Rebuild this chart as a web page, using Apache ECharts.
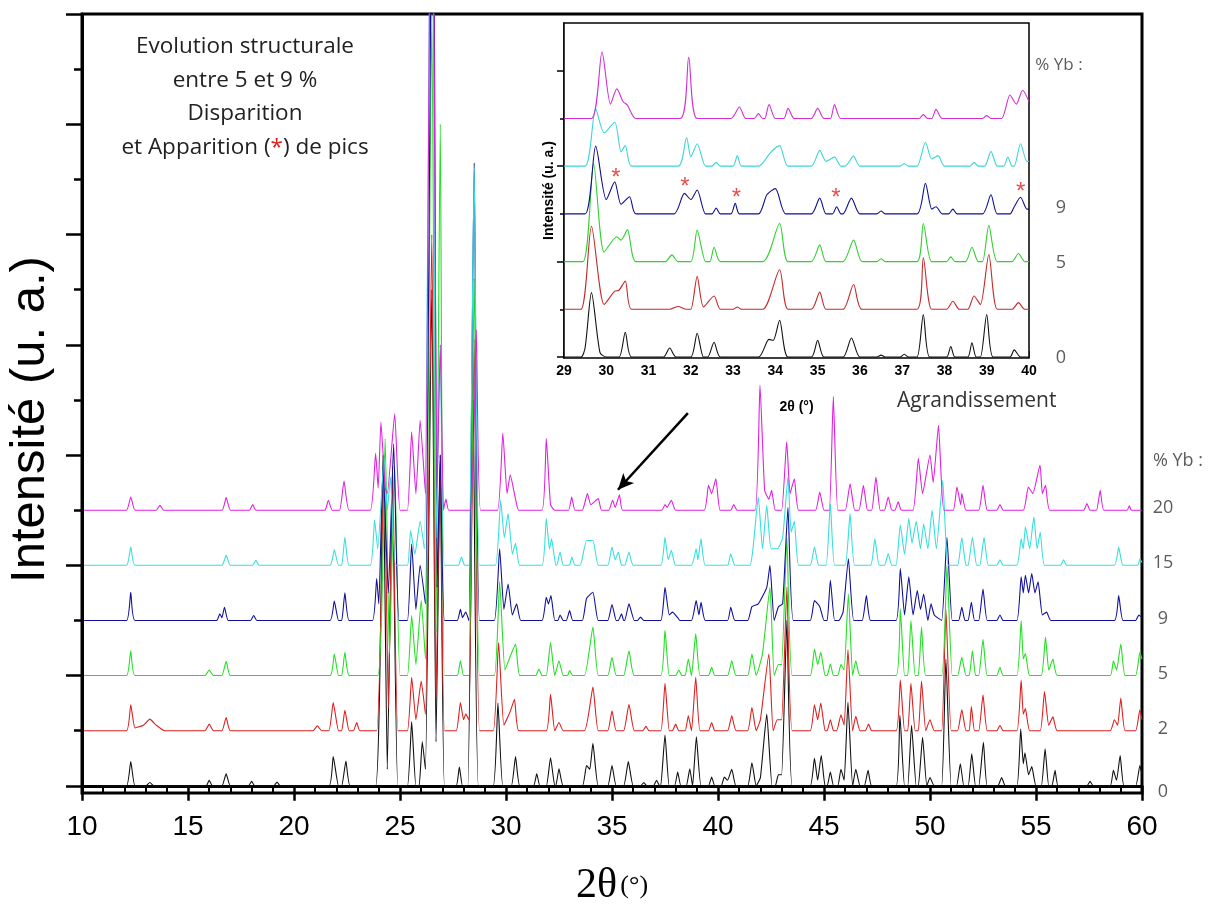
<!DOCTYPE html>
<html><head><meta charset="utf-8">
<script src="https://cdn.jsdelivr.net/npm/echarts@6/dist/echarts.min.js"></script>
<style>html,body{margin:0;padding:0;background:#fff}#c{width:1208px;height:910px}</style>
</head><body><div id="c"></div>
<script>
// ---- data (2θ in degrees, intensity in arbitrary units above each pattern's baseline) ----
const ybLabels = ['0', '2', '5', '9', '15', '20'];
const ybHeader = '% Yb :';
const mainLevels = [0, 1, 2, 3, 4, 5];
const mainHeaderLevel = 5.9;
const insetLevels = [0, 2, 3];
const insetLabels = ['0', '5', '9'];
const insetHeaderLevel = 6.05;
const xTicksMain = [10, 60, 5];
const xTicksInset = [29, 40, 1];

const main0 = [[11,0],[12.1,0],[12.3,0.44],[12.5,0],[13.0,0],[13.2,0.06],[13.4,0],[15.85,0],[16.0,0.1],[16.15,0],[16.6,0],[16.8,0.22],[17.0,0],[17.85,0],[18.0,0.08],[18.15,0],[19.05,0],[19.2,0.07],[19.35,0],[21.65,0],[21.85,0.53],[22.1,0],[22.25,0],[22.45,0.45],[22.65,0],
[23.85,0],[24.2,6.0],[24.4,0.3],[24.65,5.5],[24.9,0],[25.35,0],[25.55,1.16],[25.75,0],[25.9,0],[26.05,0.8],[26.2,0.3],[26.5,9],[26.7,0.8],[26.9,6],[27.1,0],[27.65,0],[27.8,0.34],[27.95,0],[28.2,0],[28.45,7],[28.7,0],[29.4,0],[29.62,1.5],[29.85,0],[30.25,0],[30.45,0.53],[30.65,0],[31.3,0],[31.45,0.22],[31.6,0],[31.9,0],[32.1,0.51],[32.3,0],[32.35,0],[32.5,0.31],[32.7,0],[33.6,0],[33.8,0.37],[33.95,0.3],[34.1,0.77],[34.35,0],[34.8,0],[35.0,0.37],[35.2,0],[35.55,0],[35.77,0.44],[36.0,0],[36.35,0],[36.5,0.06],[36.65,0],[36.95,0],[37.1,0.1],[37.25,0],[37.3,0],[37.5,0.92],[37.7,0],[37.95,0],[38.1,0.25],[38.25,0],[38.5,0],[38.67,0.31],[38.8,0],[38.98,0.89],[39.2,0],[39.55,0],[39.7,0.16],[39.85,0],[40.15,0],[40.3,0.16],[40.45,0.1],[40.65,0.3],[40.85,0],[41.4,0],[41.6,0.42],[41.8,0],[42.0,0.15],[42.3,1.3],[42.55,0],[42.7,0],[42.85,0.2],[43.0,0.2],[43.25,3.0],[43.5,0],[44.35,0],[44.55,0.5],[44.7,0.1],[44.87,0.55],[45.05,0],[45.15,0],[45.3,0.25],[45.45,0],[45.65,0],[45.8,0.3],[45.95,0.1],[46.13,1.52],[46.35,0],[46.5,0.3],[46.7,0],[46.9,0],[47.08,0.28],[47.25,0],[48.4,0],[48.58,1.28],[48.8,0],[48.95,0],[49.13,1.1],[49.35,0],[49.45,0],[49.65,0.88],[49.85,0],[50.0,0.15],[50.2,0],[50.55,0],[50.75,2.3],[51.0,0],[51.25,0],[51.43,0.4],[51.6,0],[51.8,0],[51.97,0.58],[52.15,0],[52.3,0],[52.52,0.79],[52.7,0],[53.2,0],[53.38,0.15],[53.55,0],[54.1,0],[54.28,1.03],[54.4,0.4],[54.48,0.6],[54.65,0.2],[54.8,0.35],[55.0,0],[55.25,0],[55.43,0.67],[55.6,0],[55.75,0],[55.9,0.28],[56.05,0],[57.4,0],[57.55,0.08],[57.7,0],[58.5,0],[58.65,0.28],[58.8,0.1],[58.97,0.55],[59.15,0],[59.7,0],[59.9,0.37],[60,0.2]];

const main1 = [[10.1,0],[12.1,0],[12.3,0.47],[12.5,0.05],[12.9,0.1],[13.2,0.21],[13.5,0.1],[13.9,0],[15.8,0],[16.0,0.12],[16.2,0],[16.6,0],[16.8,0.24],[17.0,0],[20.9,0],[21.1,0.09],[21.3,0],[21.65,0],[21.85,0.51],[22.1,0],[22.25,0],[22.4,0.37],[22.6,0],[22.8,0],[22.96,0.15],[23.1,0],
[23.9,0],[24.25,5.0],[24.45,0.4],[24.65,4.8],[24.9,0],[25.35,0],[25.55,0.97],[25.75,0.2],[26.0,0.9],[26.2,0.3],[26.5,9],[26.7,0.6],[26.9,5],[27.1,0],[27.65,0],[27.85,0.51],[28.0,0.2],[28.1,0.3],[28.25,0.2],[28.5,7.1],[28.75,0],[29.4,0],[29.65,1.6],[29.9,0.1],[30.2,0.35],[30.4,0.57],[30.6,0],[31.9,0],[32.1,0.66],[32.3,0],[32.5,0.15],[32.7,0],[33.7,0],[34.1,0.79],[34.35,0],[34.8,0],[35.0,0.36],[35.2,0],[35.55,0],[35.8,0.48],[36.05,0],[36.45,0],[36.6,0.08],[36.75,0],[37.3,0],[37.5,0.86],[37.7,0],[37.85,0],[38.0,0.12],[38.15,0],[38.45,0],[38.6,0.27],[38.75,0],[38.95,0.97],[39.15,0],[39.55,0],[39.7,0.15],[39.85,0],[40.45,0],[40.65,0.27],[40.85,0],[41.4,0],[41.6,0.42],[41.8,0],[42.0,0.2],[42.4,1.39],[42.6,0],[42.8,0.2],[43.0,0.2],[43.25,2.6],[43.5,0],[44.35,0],[44.55,0.47],[44.7,0.2],[44.85,0.5],[45.05,0],[45.15,0],[45.3,0.2],[45.45,0],[45.6,0],[45.8,0.29],[45.95,0.1],[46.13,1.47],[46.35,0],[46.5,0.26],[46.7,0],[46.95,0],[47.1,0.12],[47.25,0],[48.4,0],[48.6,0.92],[48.8,0],[48.95,0],[49.1,0.86],[49.3,0],[49.45,0],[49.6,0.9],[49.8,0],[50.0,0.2],[50.2,0],[50.55,0],[50.75,2.2],[51.0,0],[51.3,0],[51.5,0.38],[51.7,0],[51.85,0],[51.95,0.44],[52.1,0],[52.3,0],[52.5,0.65],[52.7,0],[53.15,0],[53.3,0.1],[53.45,0],[54.1,0],[54.3,0.92],[54.4,0.3],[54.5,0.4],[54.7,0],[55.2,0],[55.4,0.71],[55.6,0.1],[55.8,0.25],[56.0,0],[58.5,0],[58.7,0.2],[58.85,0.1],[59.0,0.59],[59.2,0],[59.7,0],[59.9,0.38],[60,0.2]];

const main2 = [[10.1,0],[12.1,0],[12.3,0.45],[12.5,0],[15.8,0],[16.0,0.1],[16.2,0],[16.6,0],[16.8,0.26],[17.0,0],[21.7,0],[21.9,0.39],[22.1,0],[22.25,0],[22.4,0.42],[22.6,0],
[23.95,0],[24.3,4.3],[24.5,0.4],[24.75,3.8],[25.0,0],[25.35,0],[25.55,1.09],[25.75,0.2],[26.0,1.36],[26.2,0.3],[26.5,12],[26.7,0.8],[26.9,10],[27.1,0],[27.7,0],[27.85,0.27],[28.0,0],[28.25,0],[28.5,7.2],[28.75,0],[29.45,0],[29.7,1.7],[29.95,0.1],[30.2,0.35],[30.45,0.57],[30.65,0],[31.4,0],[31.55,0.12],[31.7,0],[31.9,0],[32.1,0.6],[32.3,0],[32.5,0.27],[32.7,0],[32.9,0],[33.0,0.09],[33.15,0],[33.7,0],[34.1,0.88],[34.35,0],[34.8,0],[35.0,0.33],[35.2,0],[35.55,0],[35.8,0.45],[36.05,0],[37.3,0],[37.5,0.82],[37.7,0],[38.0,0],[38.15,0.1],[38.3,0],[38.45,0],[38.6,0.3],[38.75,0],[38.95,0.76],[39.15,0],[39.55,0],[39.7,0.15],[39.85,0],[40.45,0],[40.65,0.27],[40.85,0],[41.4,0],[41.6,0.39],[41.8,0],[42.1,0.4],[42.45,1.6],[42.65,0],[42.85,0.2],[43.0,0.2],[43.25,2.5],[43.5,0],[44.35,0],[44.55,0.48],[44.7,0.2],[44.85,0.42],[45.05,0],[45.15,0],[45.3,0.21],[45.45,0],[45.65,0],[45.8,0.2],[45.95,0.1],[46.15,1.48],[46.35,0],[46.5,0.27],[46.7,0],[48.4,0],[48.6,1.21],[48.8,0],[48.95,0],[49.1,1.0],[49.3,0],[49.45,0],[49.6,0.88],[49.8,0],[50.55,0],[50.8,2.0],[51.05,0],[51.3,0],[51.5,0.33],[51.7,0],[51.85,0],[52.0,0.45],[52.15,0],[52.3,0],[52.5,0.66],[52.7,0],[53.15,0],[53.3,0.15],[53.45,0],[54.1,0],[54.3,1.0],[54.4,0.3],[54.5,0.4],[54.7,0],[55.25,0],[55.45,0.7],[55.6,0.1],[55.8,0.3],[56.0,0],[58.5,0],[58.65,0.27],[58.8,0.1],[59.0,0.57],[59.2,0],[59.7,0],[59.9,0.42],[60,0.3]];

const main3 = [[10.1,0],[12.1,0],[12.3,0.51],[12.5,0],[16.35,0],[16.5,0.12],[16.6,0.05],[16.72,0.24],[16.9,0],[17.95,0],[18.1,0.09],[18.25,0],[21.7,0],[21.9,0.35],[22.1,0],[22.25,0],[22.4,0.5],[22.6,0],
[23.7,0],[23.9,0.76],[24.0,0.3],[24.2,2.8],[24.45,0.5],[24.7,3.2],[24.95,0],[25.35,0],[25.55,1.39],[25.75,0.2],[25.95,1.0],[26.2,0.3],[26.55,16],[26.75,0.6],[26.9,3],[27.1,0],[27.7,0],[27.85,0.2],[27.95,0.05],[28.1,0.15],[28.25,0],[28.5,8.3],[28.75,0],[29.45,0],[29.7,1.3],[29.9,0.2],[30.1,0.66],[30.3,0.1],[30.5,0.3],[30.7,0],[31.7,0],[31.9,0.42],[32.0,0.3],[32.12,0.45],[32.3,0],[32.45,0],[32.55,0.1],[32.7,0],[32.85,0],[33.0,0.18],[33.15,0],[33.6,0],[33.8,0.4],[34.1,0.51],[34.35,0],[34.8,0],[35.0,0.29],[35.2,0],[35.3,0],[35.45,0.12],[35.55,0],[35.6,0],[35.8,0.3],[36.05,0],[36.2,0],[36.35,0.06],[36.5,0],[37.3,0],[37.5,0.6],[37.7,0.1],[37.85,0.15],[38.1,0.05],[38.2,0],[38.75,0],[38.97,0.36],[39.1,0.1],[39.2,0.33],[39.4,0],[40.45,0],[40.6,0.24],[40.8,0],[41.4,0],[41.6,0.25],[41.9,0.3],[42.3,0.6],[42.45,1.0],[42.65,0],[42.85,0.25],[43.05,0.3],[43.3,2.05],[43.55,0],[44.35,0],[44.55,0.36],[44.8,0.25],[45.0,0],[45.15,0],[45.3,0.73],[45.5,0],[45.7,0],[45.9,0.15],[46.15,1.12],[46.4,0],[46.8,0],[47.0,0.45],[47.2,0],[48.4,0],[48.6,0.94],[48.8,0.1],[49.0,0.79],[49.2,0.1],[49.4,0.54],[49.55,0.2],[49.7,0.48],[49.9,0],[50.05,0.3],[50.2,0.1],[50.55,0],[50.8,1.51],[51.05,0],[51.35,0],[51.5,0.24],[51.65,0],[51.8,0],[51.95,0.33],[52.1,0],[52.3,0],[52.5,0.57],[52.7,0],[53.15,0],[53.3,0.1],[53.45,0],[54.1,0],[54.3,0.79],[54.4,0.5],[54.5,0.82],[54.65,0.5],[54.8,0.85],[54.95,0.5],[55.1,0.7],[55.3,0.1],[55.5,0.15],[55.7,0],[58.7,0],[58.9,0.45],[59.1,0],[59.7,0],[59.85,0.1],[60,0.05]];

const main4 = [[10.1,0],[12.1,0],[12.3,0.33],[12.5,0],[16.6,0],[16.8,0.18],[17.0,0],[18.05,0],[18.2,0.09],[18.35,0],[21.7,0],[21.9,0.28],[22.1,0],[22.25,0],[22.4,0.51],[22.6,0],
[23.6,0],[23.8,0.82],[23.95,0.3],[24.25,1.95],[24.4,1.0],[24.55,1.6],[24.8,0],[25.35,0],[25.5,0.63],[25.7,0.2],[25.95,0.8],[26.15,0.3],[26.5,15],[26.7,0.5],[26.9,4],[27.1,0],[27.75,0],[27.9,0.15],[28.05,0],[28.25,0],[28.5,7.2],[28.75,0],[29.5,0],[29.75,1.18],[29.92,0.5],[30.1,0.94],[30.3,0.2],[30.45,0.4],[30.65,0],[31.7,0],[31.9,0.85],[32.05,0.3],[32.15,0.48],[32.35,0],[32.4,0],[32.55,0.24],[32.7,0],[33.0,0],[33.1,0.15],[33.25,0],[33.5,0],[33.8,0.45],[34.1,0.45],[34.35,0],[34.8,0],[35.0,0.33],[35.15,0.1],[35.3,0.24],[35.45,0],[35.6,0],[35.8,0.24],[36.0,0],[37.3,0],[37.5,0.51],[37.65,0.1],[37.8,0.27],[38.0,0],[38.75,0],[38.97,0.3],[39.05,0.1],[39.2,0.48],[39.4,0],[40.45,0],[40.6,0.21],[40.8,0],[41.5,0],[41.65,0.3],[41.9,1.24],[42.1,0.3],[42.3,1.09],[42.5,0.3],[42.8,0.3],[43.05,0.5],[43.3,1.6],[43.45,0.6],[43.6,0.8],[43.8,0],[44.35,0],[44.55,0.33],[44.75,0],[45.1,0],[45.3,1.12],[45.5,0],[46.0,0],[46.23,0.94],[46.45,0],[47.2,0],[47.4,0.48],[47.6,0],[47.85,0],[48.03,0.21],[48.2,0],[48.4,0],[48.6,0.73],[48.8,0.2],[49.0,0.85],[49.15,0.4],[49.35,0.8],[49.55,0.3],[49.7,0.75],[49.9,0.3],[50.1,1.0],[50.3,0.3],[50.6,1.54],[50.85,0],[51.3,0],[51.5,0.5],[51.7,0],[51.8,0],[52.0,0.51],[52.2,0],[52.35,0],[52.55,0.51],[52.75,0],[53.15,0],[53.3,0.1],[53.45,0],[54.1,0],[54.3,0.48],[54.4,0.3],[54.5,0.7],[54.7,0.3],[54.9,0.88],[55.05,0.3],[55.2,0.6],[55.4,0],[56.15,0],[56.3,0.1],[56.45,0],[58.7,0],[58.9,0.33],[59.1,0],[59.8,0],[59.9,0.12],[60,0.05]];

const main5 = [[10.1,0],[12.1,0],[12.3,0.24],[12.5,0],[13.5,0],[13.68,0.09],[13.85,0],[16.6,0],[16.8,0.23],[17.0,0],[17.9,0],[18.05,0.1],[18.2,0],[21.45,0],[21.62,0.18],[21.8,0],[22.15,0],[22.36,0.53],[22.6,0],
[23.6,0],[23.85,1.03],[23.97,0.4],[24.1,1.6],[24.3,0.4],[24.4,0.3],[24.75,1.75],[25.0,0],[25.35,0],[25.55,1.42],[25.75,0.3],[25.95,1.63],[26.2,0.3],[26.5,15],[26.75,0.4],[26.9,3],[27.05,0],[27.1,0.1],[27.17,0.2],[27.3,0],[28.3,0],[28.6,3.27],[28.8,0],[29.6,0],[29.85,1.4],[30.05,0.3],[30.2,0.64],[30.45,0.2],[30.6,0],[31.7,0],[31.9,1.3],[32.1,0.1],[32.3,0],[32.95,0],[33.1,0.24],[33.25,0],[33.6,0],[33.84,0.3],[34.0,0.1],[34.35,0.21],[34.5,0],[34.85,0],[35.03,0.18],[35.15,0.05],[35.35,0.28],[35.5,0],[37.35,0],[37.5,0.1],[37.6,0.05],[37.8,0.18],[38.0,0],[39.35,0],[39.55,0.45],[39.7,0.3],[39.9,0.57],[40.1,0],[40.6,0],[40.74,0.1],[40.9,0],[41.75,0],[41.98,2.27],[42.2,0.36],[42.4,0.2],[42.53,0.36],[42.7,0],[43.0,0],[43.24,1.24],[43.4,0.3],[43.6,0.57],[43.8,0],[44.6,0],[44.8,0.33],[45.0,0],[45.25,0],[45.44,2.06],[45.65,0],[46.0,0],[46.23,0.48],[46.45,0],[46.65,0],[46.86,0.45],[47.05,0],[47.25,0],[47.45,0.6],[47.65,0],[47.85,0],[48.03,0.24],[48.2,0],[48.35,0],[48.5,0.15],[48.65,0],[49.2,0],[49.45,0.94],[49.65,0.3],[50.0,1.0],[50.15,0.5],[50.4,1.54],[50.65,0],[51.1,0],[51.27,0.42],[51.45,0.1],[51.5,0.3],[51.7,0],[52.3,0],[52.5,0.45],[52.7,0],[53.15,0],[53.3,0.1],[53.45,0],[54.4,0],[54.64,0.42],[54.85,0.3],[55.19,0.82],[55.3,0.3],[55.45,0.45],[55.65,0],[57.25,0],[57.4,0.12],[57.55,0],[57.85,0],[58.03,0.36],[58.2,0],[59.3,0],[59.4,0.08],[59.5,0],[60,0]];

const ins0 = [[29,0],[29.4,0],[29.5,0.2],[29.65,1.35],[29.85,0.1],[30.0,0],[30.3,0],[30.45,0.52],[30.6,0],[31.35,0],[31.5,0.19],[31.65,0],[32.0,0],[32.15,0.5],[32.3,0],[32.4,0],[32.55,0.31],[32.7,0],[33.6,0],[33.85,0.37],[33.95,0.35],[34.1,0.77],[34.3,0],[34.85,0],[35.0,0.35],[35.15,0],[35.6,0],[35.8,0.4],[36.0,0],[36.4,0],[36.5,0.04],[36.6,0],[36.95,0],[37.05,0.06],[37.15,0],[37.35,0],[37.5,0.89],[37.65,0],[38.05,0],[38.15,0.22],[38.25,0],[38.55,0],[38.65,0.3],[38.75,0],[38.85,0],[39.0,0.89],[39.15,0],[39.55,0],[39.65,0.15],[39.8,0],[40,0]];
const ins1 = [[29,0],[29.4,0],[29.65,1.74],[29.95,0.1],[30.2,0.38],[30.3,0.4],[30.45,0.59],[30.6,0],[31.5,0],[31.7,0.06],[31.9,0],[32.0,0],[32.15,0.69],[32.3,0.05],[32.55,0.28],[32.7,0],[33.0,0],[33.1,0.05],[33.2,0],[33.7,0],[34.1,0.83],[34.3,0],[34.85,0],[35.05,0.36],[35.2,0],[35.6,0],[35.85,0.52],[36.05,0],[37.35,0],[37.5,1.08],[37.7,0],[38.05,0],[38.2,0.17],[38.35,0],[38.55,0],[38.7,0.28],[38.85,0.1],[39.05,1.15],[39.25,0],[39.6,0],[39.75,0.14],[39.9,0],[40,0]];
const ins2 = [[29,0],[29.45,0],[29.7,2.05],[29.95,0.2],[30.25,0.52],[30.35,0.45],[30.5,0.67],[30.7,0],[31.4,0],[31.55,0.14],[31.7,0],[32.0,0],[32.15,0.66],[32.35,0],[32.45,0],[32.55,0.3],[32.7,0],[33.7,0],[34.1,0.8],[34.3,0],[34.85,0],[35.05,0.35],[35.2,0],[35.6,0],[35.85,0.45],[36.05,0],[36.4,0],[36.5,0.06],[36.6,0],[37.35,0],[37.5,0.8],[37.7,0],[38.05,0],[38.15,0.1],[38.25,0],[38.5,0],[38.65,0.3],[38.8,0],[38.9,0],[39.05,0.76],[39.25,0],[39.6,0],[39.75,0.17],[39.9,0],[40,0]];
const ins3 = [[29,0],[29.5,0],[29.75,1.42],[30.0,0.3],[30.2,0.67],[30.35,0.2],[30.55,0.36],[30.7,0],[31.6,0],[31.85,0.43],[32.0,0.3],[32.15,0.5],[32.35,0],[32.5,0],[32.6,0.12],[32.7,0],[32.95,0],[33.05,0.22],[33.15,0],[33.6,0],[33.8,0.4],[34.0,0.53],[34.25,0],[34.85,0],[35.05,0.33],[35.2,0],[35.35,0],[35.45,0.15],[35.55,0],[35.6,0],[35.8,0.33],[36.0,0],[36.4,0],[36.5,0.06],[36.6,0],[37.35,0],[37.55,0.64],[37.7,0.1],[37.8,0.15],[37.95,0],[38.1,0],[38.2,0.1],[38.3,0],[38.9,0],[39.1,0.4],[39.25,0],[39.55,0],[39.65,0.15],[39.8,0.35],[39.95,0.1],[40,0.1]];
const ins4 = [[29,0],[29.5,0],[29.75,1.2],[29.95,0.7],[30.2,0.92],[30.35,0.3],[30.45,0.43],[30.6,0],[31.7,0],[31.9,0.6],[32.0,0.2],[32.15,0.47],[32.35,0],[32.5,0],[32.6,0.08],[32.7,0],[33.0,0],[33.1,0.22],[33.2,0],[33.6,0],[33.9,0.3],[34.1,0.43],[34.3,0],[34.85,0],[35.05,0.33],[35.2,0.1],[35.4,0.19],[35.55,0],[35.65,0],[35.85,0.21],[36.0,0],[36.95,0],[37.05,0.05],[37.15,0],[37.35,0],[37.55,0.5],[37.7,0.15],[37.85,0.22],[38.0,0],[38.6,0],[38.7,0.08],[38.8,0],[38.95,0],[39.1,0.31],[39.25,0],[39.4,0],[39.5,0.19],[39.6,0],[39.65,0],[39.8,0.47],[39.95,0.1],[40,0.1]];
const ins5 = [[29,0],[29.65,0],[29.9,1.39],[30.1,0.3],[30.25,0.62],[30.4,0.35],[30.5,0.28],[30.7,0],[31.75,0],[31.95,1.28],[32.15,0],[32.95,0],[33.15,0.24],[33.3,0],[33.5,0],[33.6,0.1],[33.7,0],[33.75,0],[33.85,0.29],[34.0,0],[34.2,0],[34.3,0.21],[34.45,0],[34.85,0],[35.0,0.21],[35.15,0],[35.3,0],[35.4,0.29],[35.55,0],[37.4,0],[37.5,0.08],[37.6,0],[37.7,0],[37.8,0.19],[37.95,0],[38.9,0],[39.0,0.06],[39.1,0],[39.35,0],[39.55,0.49],[39.7,0.3],[39.85,0.59],[40,0.35]];

// new peaks ("*") in the 9 % pattern of the enlargement: [2θ, height on inset scale]
const starMarks = [[30.23,3.85],[31.86,3.66],[33.08,3.43],[35.43,3.43],[39.8,3.56]];
// arrow from the enlargement to the region 29–40° of the 20 % pattern: [tip, tail]
const arrowTip = [35.28, 5.37];
const arrowTail = [38.58, 6.76];

// ---- styles ----
const mainColors = ['#111111', '#dd1f1f', '#22e022', '#10109a', '#36dede', '#e020e0'];
const insetColors = ['#111111', '#c42a2a', '#2fd02f', '#10108e', '#3cd6d6', '#d22ed2'];
const mainSets = [main0, main1, main2, main3, main4, main5];
const insetSets = [ins0, ins1, ins2, ins3, ins4, ins5];

const chart = echarts.init(document.getElementById('c'), null, {renderer: 'canvas'});

const series = [];
mainSets.forEach((d, i) => {
  const s = {
    type: 'line', xAxisIndex: 0, yAxisIndex: 0, showSymbol: false, clip: true,
    smooth: 0.15,
    data: d.map(p => [p[0], p[1] + mainLevels[i]]),
    lineStyle: {width: 1.1, color: mainColors[i]}, itemStyle: {color: mainColors[i]},
    animation: false, silent: true, z: 2
  };
  if (i === 5) {
    s.markLine = {
      silent: true, animation: false, symbol: ['arrow', 'none'], symbolSize: [11, 16],
      label: {show: false},
      lineStyle: {color: '#000', width: 2.5, type: 'solid'},
      data: [[{coord: arrowTip}, {coord: arrowTail}]]
    };
  }
  series.push(s);
});
insetSets.forEach((d, i) => {
  series.push({
    type: 'line', xAxisIndex: 1, yAxisIndex: 2, showSymbol: false, clip: true,
    smooth: 0.25,
    data: d.map(p => [p[0], p[1] + i]),
    lineStyle: {width: 1.1, color: insetColors[i]}, itemStyle: {color: insetColors[i]},
    animation: false, silent: true, z: 3
  });
});
// right-hand level labels, main chart
const lblStyle = {fontFamily: 'Open Sans', fontSize: 18, color: '#333'};
series.push({
  type: 'scatter', xAxisIndex: 0, yAxisIndex: 0, symbolSize: 1, clip: false, silent: true, animation: false,
  itemStyle: {color: 'rgba(0,0,0,0)'},
  data: mainLevels.map((lv, i) => ({
    value: [xTicksMain[1], lv],
    label: Object.assign({show: true, position: 'inside', offset: [21, i === 0 ? 6 : -2], formatter: ybLabels[i]}, lblStyle)
  })).concat([{
    value: [xTicksMain[1], mainHeaderLevel],
    label: Object.assign({show: true, position: 'inside', offset: [36, 0], formatter: ybHeader}, lblStyle)
  }])
});
// right-hand labels, enlargement
series.push({
  type: 'scatter', xAxisIndex: 1, yAxisIndex: 2, symbolSize: 1, clip: false, silent: true, animation: false,
  itemStyle: {color: 'rgba(0,0,0,0)'},
  data: insetLevels.map((lv, i) => ({
    value: [xTicksInset[1], lv],
    label: Object.assign({show: true, position: 'inside', offset: [32, i === 2 ? -6 : 1], formatter: insetLabels[i]}, lblStyle)
  })).concat([{
    value: [xTicksInset[1], insetHeaderLevel],
    label: Object.assign({show: true, position: 'inside', offset: [30, -3], formatter: ybHeader}, lblStyle, {fontSize: 17})
  }])
});
// red asterisks
series.push({
  type: 'scatter', xAxisIndex: 1, yAxisIndex: 2, symbolSize: 1, clip: false, silent: true, animation: false, z: 5,
  itemStyle: {color: 'rgba(0,0,0,0)'},
  data: starMarks.map(p => ({value: p, label: {show: true, position: 'inside', offset: [0, 5], formatter: '*', color: '#e02020', fontSize: 24, fontFamily: 'Liberation Sans'}}))
});

const option = {
  backgroundColor: '#fff',
  animation: false,
  grid: [
    {left: 82, right: 66, top: 14, bottom: 117, show: true, borderColor: '#000', borderWidth: 3, backgroundColor: 'transparent', containLabel: false, outerBoundsMode: 'none'},
    {left: 564, right: 179, top: 23, bottom: 552, show: true, borderColor: '#000', borderWidth: 1.5, backgroundColor: '#fff', containLabel: false, outerBoundsMode: 'none', z: 1}
  ],
  xAxis: [
    {
      type: 'value', gridIndex: 0, min: xTicksMain[0], max: xTicksMain[1], interval: xTicksMain[2],
      axisLine: {show: true, lineStyle: {color: '#000', width: 3}},
      axisTick: {show: true, length: 15, lineStyle: {color: '#000', width: 2.5}},
      minorTick: {show: true, splitNumber: 5, length: 8, lineStyle: {color: '#000', width: 2}},
      axisLabel: {fontSize: 28, margin: 20, color: '#000', fontFamily: 'Liberation Sans'},
      splitLine: {show: false}, minorSplitLine: {show: false},
      name: '{a|2θ} {b|(°)}', nameLocation: 'middle', nameGap: 72,
      nameTextStyle: {rich: {a: {fontSize: 42, fontFamily: 'Liberation Serif', color: '#000'}, b: {fontSize: 26, fontFamily: 'Liberation Serif', color: '#000'}}}
    },
    {
      type: 'value', gridIndex: 1, min: xTicksInset[0], max: xTicksInset[1], interval: xTicksInset[2],
      axisLine: {show: true, lineStyle: {color: '#000', width: 1.5}},
      axisTick: {show: true, inside: true, length: 6, lineStyle: {color: '#000', width: 1.5}},
      minorTick: {show: true, splitNumber: 5, length: 3, lineStyle: {color: '#000', width: 1}},
      axisLabel: {fontSize: 14, fontWeight: 'bold', margin: 6, color: '#000', fontFamily: 'Liberation Sans'},
      splitLine: {show: false}, minorSplitLine: {show: false},
      name: '2θ (°)', nameLocation: 'middle', nameGap: 42,
      nameTextStyle: {fontSize: 14, fontWeight: 'bold', fontFamily: 'Liberation Sans', color: '#000'}
    }
  ],
  yAxis: [
    {
      type: 'value', gridIndex: 0, min: -0.13, max: 14, position: 'left',
      axisLine: {show: true, lineStyle: {color: '#000', width: 3}},
      axisTick: {show: true, length: 16, customValues: [0, 2, 4, 6, 8, 10, 12, 14], lineStyle: {color: '#000', width: 2.5}},
      axisLabel: {show: false}, splitLine: {show: false},
      name: 'Intensité (u. a.)', nameLocation: 'middle', nameGap: 27,
      nameTextStyle: {fontSize: 49, fontFamily: 'Liberation Sans', color: '#000', padding: [0, 32, 0, 0]}
    },
    {
      type: 'value', gridIndex: 0, min: -0.13, max: 14, position: 'left',
      axisLine: {show: false},
      axisTick: {show: true, length: 8, customValues: [1, 3, 5, 7, 9, 11, 13], lineStyle: {color: '#000', width: 2.5}},
      axisLabel: {show: false}, splitLine: {show: false}
    },
    {
      type: 'value', gridIndex: 1, min: -0.02, max: 7, position: 'left',
      axisLine: {show: true, lineStyle: {color: '#000', width: 1.5}},
      axisTick: {show: true, length: 7, customValues: [0, 2, 4, 6], lineStyle: {color: '#000', width: 1.5}},
      axisLabel: {show: false}, splitLine: {show: false},
      name: 'Intensité (u. a.)', nameLocation: 'middle', nameGap: 8,
      nameTextStyle: {fontSize: 14, fontWeight: 'bold', fontFamily: 'Liberation Sans', color: '#000'}
    },
    {
      type: 'value', gridIndex: 1, min: -0.02, max: 7, position: 'left',
      axisLine: {show: false},
      axisTick: {show: true, length: 4, customValues: [1, 3, 5], lineStyle: {color: '#000', width: 1.5}},
      axisLabel: {show: false}, splitLine: {show: false}
    }
  ],
  graphic: [
    {
      type: 'text', x: 245, y: 30, z: 10,
      style: {
        text: 'Evolution structurale\nentre 5 et 9 %\nDisparition\net Apparition ({r|*}) de pics',
        fontFamily: 'Open Sans', fontSize: 22.5, fill: '#222', align: 'center', verticalAlign: 'top', lineHeight: 33.5,
        rich: {r: {fill: '#e02020', fontFamily: 'Open Sans', fontSize: 22.5, lineHeight: 33.5}}
      }
    },
    {
      type: 'text', x: 897, y: 401, z: 10,
      style: {text: 'Agrandissement', fontFamily: 'Open Sans', fontSize: 21, fill: '#333', align: 'left', verticalAlign: 'middle'}
    }
  ],
  series: series
};
chart.setOption(option);
</script>
</body></html>
